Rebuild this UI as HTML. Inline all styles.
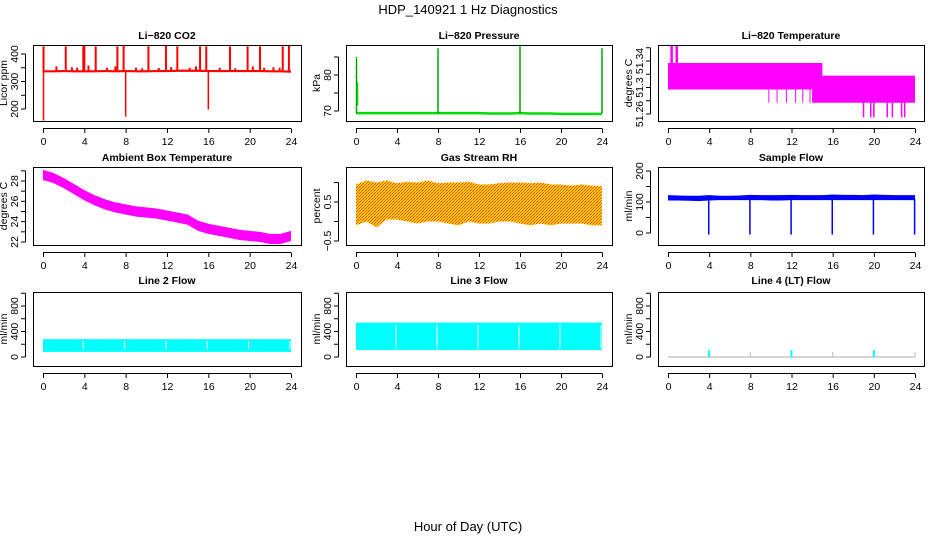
<!DOCTYPE html>
<html><head><meta charset="utf-8"><style>
html,body{margin:0;padding:0;background:#fff;}
svg{display:block;font-family:"Liberation Sans",Arial,sans-serif;}
</style></head><body>
<svg id="c" width="936" height="540" viewBox="0 0 936 540">
<defs>
<pattern id="rhpat" width="3" height="3" patternUnits="userSpaceOnUse">
<rect width="3" height="3" fill="#ffd400"/><rect x="0" y="0" width="1" height="1" fill="#ff3000"/><rect x="2" y="1" width="1" height="1" fill="#ff3000"/><rect x="1" y="2" width="1" height="1" fill="#ff6000"/>
</pattern>
</defs>
<text x="468" y="14" text-anchor="middle" font-size="13">HDP_140921  1 Hz Diagnostics</text>
<text x="468" y="531" text-anchor="middle" font-size="13">Hour of Day (UTC)</text>
</svg>
<script>
// ---- data ----
const hourTicks = [0,4,8,12,16,20,24];
const co2Base = [337,337,338,337,337,337,338,337,338,337,337,338,338,339,339,339,338,338,338,338,338,338,337,337,336];
const co2SpikeHours = [0.05,2.2,3.9,4.0,5.1,7.2,7.8,10.2,11.9,13.0,15.2,15.8,18.1,19.8,21.0,23.2,23.8];
const co2SpikeVals  = [428,428,428,430,428,428,430,428,430,428,428,428,428,428,428,428,430];
const co2DipHours = [0.05,8.0,16.0];
const co2DipVals  = [158,172,198];
const co2SmallHours = [1.3,2.8,3.3,4.4,6.2,7.0,9.0,9.6,11.2,12.4,14.2,14.8,17.1,18.6,20.3,21.4,22.3,22.9];
const co2SmallVals  = [355,352,350,358,350,355,350,348,349,352,350,355,350,348,355,350,352,350];
const presBase = [69.4,69.4,69.4,69.4,69.4,69.4,69.4,69.4,69.4,69.4,69.4,69.4,69.4,69.3,69.3,69.3,69.4,69.3,69.3,69.3,69.2,69.2,69.2,69.2,69.2];
const presSpikeHours = [0.05,8.0,16.0,24.0];
const presSpikeVals = [85,87.5,88.5,87.5];
const tempHiA = [51.337,51.337,51.337,51.337,51.337,51.337,51.337,51.337,51.337,51.337,51.337,51.337,51.337,51.337,51.337,51.318,51.318,51.318,51.318,51.318,51.318,51.318,51.318,51.318,51.318];
const tempLoA = [51.297,51.297,51.297,51.297,51.297,51.297,51.297,51.297,51.297,51.297,51.297,51.297,51.297,51.297,51.277,51.277,51.277,51.277,51.277,51.277,51.277,51.277,51.277,51.277,51.277];
const tempUpHours = [0.3,0.4,0.8,0.9];
const tempDownHours = [19.0,19.7,20.0,21.3,21.8,22.7,23.0];
const ambient = [28.6,28.3,27.8,27.2,26.6,26.1,25.7,25.4,25.2,25.0,24.9,24.8,24.6,24.4,24.2,23.6,23.3,23.1,22.9,22.7,22.6,22.5,22.3,22.3,22.6];
const rhHi = [0.95,1.05,1.0,1.05,0.98,1.02,1.0,1.05,0.98,1.0,1.0,1.02,0.95,0.95,0.98,1.0,1.0,0.98,1.0,0.95,0.95,0.92,0.95,0.92,0.9];
const rhLo = [-0.1,0.0,-0.15,0.05,0.05,0.0,-0.05,0.0,0.0,-0.05,-0.1,0.0,-0.05,-0.05,0.0,0.0,-0.05,-0.1,-0.05,-0.1,-0.05,-0.05,-0.05,-0.1,-0.1];
const sfHi = [122,121,120,120,122,120,120,121,123,122,122,122,123,122,122,122,124,123,123,122,124,123,122,122,122];
const sfLo = [105,105,104,103,105,106,106,106,106,106,105,105,106,106,106,106,106,106,106,106,106,106,106,106,106];
const sfDipHours = [4,8,12,16,20,24];
const l2Hi = 280, l2Lo = 80;
const l3Hi = 540, l3Lo = 110;
const flowGapHours = [3.9,7.9,11.9,15.9,19.9,23.9];
const l4SpikeHours = [4,8,12,16,20,24];
const l4SpikeVals = [110,80,110,80,110,80];

const svg = document.getElementById('c');
const NS = 'http://www.w3.org/2000/svg';
function mk(tag, attrs, parent){const e=document.createElementNS(NS,tag);for(const k in attrs)e.setAttribute(k,attrs[k]);(parent||svg).appendChild(e);return e;}

const cols=[{l:33,r:301,x0:43,x24:291},{l:346,r:612,x0:356,x24:602},{l:658,r:924,x0:668,x24:915}];
const rows=[{t:45,b:121,title:35},{t:167,b:245,title:157},{t:292,b:366,title:280}];

function panel(ci,ri,name,title,ylab,yv0,yp0,yv1,yp1,ticks,labels){
  const c=cols[ci],r=rows[ri];
  const g=mk('g',{});
  
  
  const X=h=>c.x0+(c.x24-c.x0)*h/24;
  const Y=v=>yp0+(yp1-yp0)*(v-yv0)/(yv1-yv0);
  const t=mk('text',{x:(c.l+c.r)/2,y:r.title+4,'text-anchor':'middle','font-size':10.5,'font-weight':'bold'},g);t.textContent=title;
  
  const data=mk('g',{},g);
  const ax=mk('g',{stroke:'#000','stroke-width':1,fill:'none'},g);
  
  mk('rect',{x:c.l+0.5,y:r.t+0.5,width:c.r-c.l,height:r.b-r.t},ax);
  mk('line',{x1:X(0),x2:X(24),y1:r.b+7.5,y2:r.b+7.5},ax);
  hourTicks.forEach(h=>{mk('line',{x1:X(h)+0.5,x2:X(h)+0.5,y1:r.b+7.5,y2:r.b+12},ax);
    const tx=mk('text',{x:X(h)+0.5,y:r.b+24,'text-anchor':'middle','font-size':10.5,fill:'#000',stroke:'none'},g);tx.textContent=h;
    });
  const ys=ticks.map(Y);
  mk('line',{x1:c.l-7.5,x2:c.l-7.5,y1:Math.min(...ys),y2:Math.max(...ys)},ax);
  ticks.forEach((v,i)=>{const y=Y(v);mk('line',{x1:c.l-12,x2:c.l-7.5,y1:y,y2:y},ax);
    if(labels[i]!==''){const tx=mk('text',{x:c.l-15,y:y,'text-anchor':'middle','font-size':10.5,transform:`rotate(-90 ${c.l-15} ${y})`,fill:'#000',stroke:'none'},g);tx.textContent=labels[i];
    }});
  const yl=mk('text',{x:c.l-26,y:(r.t+r.b)/2,'text-anchor':'middle','font-size':10.5,transform:`rotate(-90 ${c.l-26} ${(r.t+r.b)/2})`},g);yl.textContent=ylab;
  
  return {X,Y,g:data};
}
function vseg(p,h,a,b,col,w){const e=mk('line',{x1:p.X(h),x2:p.X(h),y1:p.Y(a),y2:p.Y(b),stroke:col,'stroke-width':w||1},p.g);return e;}
function band(p,hi,lo,fill,name,step){
  let top=[],bot=[];
  hi.forEach((v,i)=>{if(step&&i>0)top.push(p.X(i)+','+p.Y(hi[i-1]));top.push(p.X(i)+','+p.Y(v));});
  lo.forEach((v,i)=>{if(step&&i>0)bot.push(p.X(i)+','+p.Y(lo[i-1]));bot.push(p.X(i)+','+p.Y(v));});
  const e=mk('polygon',{points:top.concat(bot.reverse()).join(' '),fill:fill},p.g);
  return e;
}

// CO2
let p=panel(0,0,'co2','Li\u2212820 CO2','Licor ppm',200,109,400,54,[200,250,300,350,400],['200','','300','','400']);
band(p,co2Base.map(v=>v+4),co2Base.map(v=>v-4),'#ff0000','co2-band');
co2SmallHours.forEach((h,i)=>vseg(p,h,co2Base[Math.round(h)],co2SmallVals[i],'#ff0000',2));
co2SpikeHours.forEach((h,i)=>vseg(p,h,co2Base[Math.round(h)],co2SpikeVals[i],'#ff0000',2));
co2DipHours.forEach((h,i)=>vseg(p,h,co2Base[Math.round(h)],co2DipVals[i],'#ff0000',1.5));

// Pressure
p=panel(1,0,'pressure','Li\u2212820 Pressure','kPa',70,111,80,75,[70,75,80,85],['70','','80','']);
band(p,presBase.map(v=>v+0.35),presBase.map(v=>v-0.35),'#00dd00','pressure-band');
presSpikeHours.forEach((h,i)=>{vseg(p,h,69.4,presSpikeVals[i],'#00cc00',1.5);vseg(p,h,69.4,presSpikeVals[i]-0.5,'#000',0.6).setAttribute('stroke-dasharray','1 1');});
vseg(p,0.15,71.5,78,'#00dd00',1.5);

// Li-820 Temperature
p=panel(2,0,'li820-temp','Li\u2212820 Temperature','degrees C',51.26,114,51.34,61,[51.26,51.28,51.30,51.32,51.34,51.36],['51.26','','51.3','','51.34','']);
band(p,tempHiA,tempLoA,'#ff00ff','li820-temp-band',true);
tempUpHours.forEach(h=>vseg(p,h,51.337,51.363,'#ff00ff',1.5));
tempDownHours.forEach(h=>vseg(p,h,51.277,51.255,'#ff00ff',1.5));
[9.8,10.6,11.5,12.4,13.1,13.8].forEach(h=>vseg(p,h,51.297,51.277,'#ff00ff',1));

// Ambient
p=panel(0,1,'ambient-temp','Ambient Box Temperature','degrees C',22,242,28,181,[22,23,24,25,26,27,28,29],['22','','24','','26','','28','']);
band(p,ambient.map(v=>v+0.5),ambient.map(v=>v-0.5),'#ff00ff','ambient-band');

// RH
p=panel(1,1,'gas-rh','Gas Stream RH','percent',-0.5,241,0.5,202,[-0.5,0,0.5,1],['\u22120.5','','0.5','']);
band(p,rhHi,rhLo,'url(#rhpat)','rh-band');

// Sample flow
p=panel(2,1,'sample-flow','Sample Flow','ml/min',0,233,200,171,[0,50,100,150,200],['0','','100','','200']);
band(p,sfHi,sfLo,'#0000ff','sample-flow-band');
sfDipHours.forEach(h=>vseg(p,h-0.04,110,-5,'#0000ff',1.5));

// Line 2
p=panel(0,2,'line2-flow','Line 2 Flow','ml/min',0,357,800,306,[0,200,400,600,800,1000],['0','','400','','800','']);
let e=mk('rect',{x:p.X(0),y:p.Y(l2Hi),width:p.X(24)-p.X(0),height:p.Y(l2Lo)-p.Y(l2Hi),fill:'#00ffff'},p.g);

flowGapHours.forEach(h=>vseg(p,h,l2Lo+40,l2Hi-30,'#ffffff',1));

// Line 3
p=panel(1,2,'line3-flow','Line 3 Flow','ml/min',0,357,800,306,[0,200,400,600,800,1000],['0','','400','','800','']);
e=mk('rect',{x:p.X(0),y:p.Y(l3Hi),width:p.X(24)-p.X(0),height:p.Y(l3Lo)-p.Y(l3Hi),fill:'#00ffff'},p.g);

flowGapHours.forEach(h=>vseg(p,h,l3Lo+20,l3Hi-40,'#ffffff',1));

// Line 4
p=panel(2,2,'line4-flow','Line 4 (LT) Flow','ml/min',0,357,800,306,[0,200,400,600,800,1000],['0','','400','','800','']);
e=mk('line',{x1:p.X(0),x2:p.X(24),y1:p.Y(0),y2:p.Y(0),stroke:'#aaaaaa','stroke-width':1},p.g);

l4SpikeHours.forEach((h,i)=>vseg(p,h,0,l4SpikeVals[i],l4SpikeVals[i]>100?'#00ffff':'#bbbbbb',l4SpikeVals[i]>100?2:1));
</script>
</body></html>
